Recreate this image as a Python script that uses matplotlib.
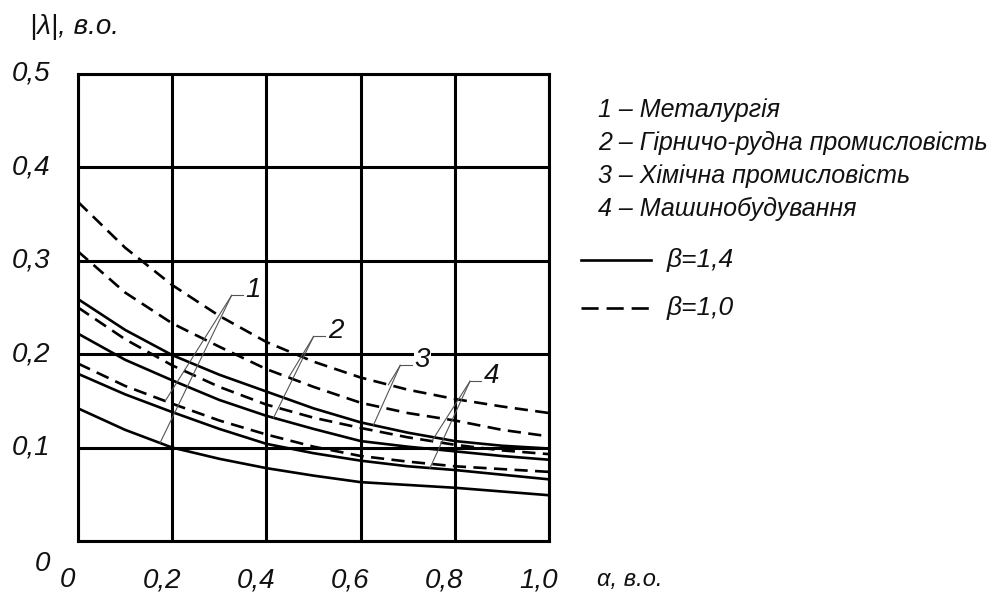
#!/usr/bin/env python3
# -*- coding: utf-8 -*-
"""|lambda| versus alpha for four industries at two beta values."""

import matplotlib

matplotlib.use("Agg")
import matplotlib.pyplot as plt
import numpy as np

FONT = ["Liberation Sans Narrow", "Liberation Sans", "DejaVu Sans"]

alpha = [0.0, 0.1, 0.2, 0.3, 0.4, 0.5, 0.6, 0.7, 0.8, 0.9, 1.0]

# 1 - metallurgy
metal_b14 = [0.142, 0.119, 0.100, 0.088, 0.078, 0.070, 0.063, 0.060, 0.057, 0.053, 0.049]
metal_b10 = [0.190, 0.166, 0.147, 0.129, 0.114, 0.101, 0.091, 0.085, 0.080, 0.077, 0.074]
# 2 - mining
mining_b14 = [0.222, 0.194, 0.172, 0.151, 0.134, 0.120, 0.107, 0.101, 0.096, 0.091, 0.087]
mining_b10 = [0.310, 0.266, 0.233, 0.208, 0.184, 0.165, 0.148, 0.137, 0.129, 0.119, 0.112]
# 3 - chemical
chem_b14 = [0.259, 0.226, 0.199, 0.178, 0.160, 0.142, 0.127, 0.116, 0.107, 0.102, 0.099]
chem_b10 = [0.363, 0.314, 0.274, 0.241, 0.213, 0.192, 0.175, 0.162, 0.152, 0.144, 0.137]
# 4 - machine building
mach_b14 = [0.179, 0.157, 0.138, 0.120, 0.104, 0.094, 0.086, 0.080, 0.076, 0.071, 0.066]
mach_b10 = [0.250, 0.216, 0.188, 0.165, 0.146, 0.132, 0.121, 0.111, 0.103, 0.097, 0.093]

legend_lines = [
    "1 – Металургія",
    "2 – Гірничо-рудна промисловість",
    "3 – Хімічна промисловість",
    "4 – Машинобудування",
]
x_ticks = [0.0, 0.2, 0.4, 0.6, 0.8, 1.0]
x_tick_labels = ["0", "0,2", "0,4", "0,6", "0,8", "1,0"]
y_ticks = [0.0, 0.1, 0.2, 0.3, 0.4, 0.5]
y_tick_labels = ["0", "0,1", "0,2", "0,3", "0,4", "0,5"]

# curve label: (text, elbow x, elbow y, x of the two leader ends, curves they hit)
callouts = [
    ("1", 0.326, 0.263, (0.185, 0.174), (metal_b10, metal_b14)),
    ("2", 0.500, 0.219, (0.447, 0.415), (mining_b10, mining_b14)),
    ("3", 0.684, 0.188, (0.659, 0.627), (chem_b10, chem_b14)),
    ("4", 0.832, 0.171, (0.751, 0.747), (mach_b10, mach_b14)),
]

LW = 1.9
DASH = (0, (5.0, 2.8))
TXT = dict(family=FONT, style="italic", color="#111111")

fig = plt.figure(figsize=(9.98, 6.04), dpi=100)
fig.patch.set_facecolor("white")
ax = fig.add_axes([0.0782, 0.1043, 0.4720, 0.7732])

for b14, b10 in [(metal_b14, metal_b10), (mining_b14, mining_b10),
                 (chem_b14, chem_b10), (mach_b14, mach_b10)]:
    ax.plot(alpha, b14, color="black", linewidth=LW, solid_capstyle="butt", zorder=3)
    ax.plot(alpha, b10, color="black", linewidth=LW, linestyle=DASH, zorder=3)

for text, ex, ey, ends, curves in callouts:
    for end_x, curve in zip(ends, curves):
        end_y = np.interp(end_x, alpha, curve)
        ax.plot([ex, end_x], [ey, end_y], color="#555555", linewidth=0.8, zorder=4)
    ax.plot([ex, ex + 0.024], [ey, ey], color="#555555", linewidth=0.8, zorder=4)
    ax.text(ex + 0.030, ey + 0.006, text, fontsize=20, ha="left", va="center",
            zorder=5, bbox=dict(facecolor="white", edgecolor="none", pad=0.5), **TXT)

ax.set_xlim(0, 1.0)
ax.set_ylim(0, 0.5)
ax.set_xticks(x_ticks)
ax.set_yticks(y_ticks)
ax.set_xticklabels([])
ax.set_yticklabels([])
ax.tick_params(length=0)
ax.grid(True, color="black", linewidth=2.2)
ax.set_axisbelow(True)
for spine in ax.spines.values():
    spine.set_linewidth(2.2)

# tick labels sit a little left of the grid lines, "0" drops below the frame
xlab_tr = ax.get_xaxis_transform()
for xv, lab in zip(x_ticks, x_tick_labels):
    ax.text(xv - 0.022, -0.084, lab, transform=xlab_tr, fontsize=20,
            ha="center", va="center", clip_on=False, **TXT)
ylab_tr = ax.get_yaxis_transform()
for yv, lab in zip(y_ticks, y_tick_labels):
    shift = -0.025 if yv == 0 else 0.0
    ax.text(-0.059, yv + shift, lab, transform=ylab_tr, fontsize=20,
            ha="right", va="center", clip_on=False, **TXT)

fig.text(0.030, 0.955, "|λ|, в.о.", fontsize=20, ha="left", va="center", **TXT)
fig.text(0.598, 0.040, "α, в.о.", fontsize=17, ha="left", va="center", **TXT)

for i, line in enumerate(legend_lines):
    fig.text(0.599, 0.818 - i * 0.0546, line, fontsize=18, ha="left",
             va="center", **TXT)

fig.add_artist(plt.Line2D([0.582, 0.652], [0.5695, 0.5695], color="black", linewidth=LW))
fig.add_artist(plt.Line2D([0.582, 0.652], [0.490, 0.490], color="black",
                          linewidth=LW, linestyle=(0, (6.5, 3.0))))
fig.text(0.668, 0.5695, "β=1,4", fontsize=19, ha="left", va="center", **TXT)
fig.text(0.668, 0.490, "β=1,0", fontsize=19, ha="left", va="center", **TXT)

fig.savefig("out.png", dpi=100, facecolor="white")
plt.close(fig)
